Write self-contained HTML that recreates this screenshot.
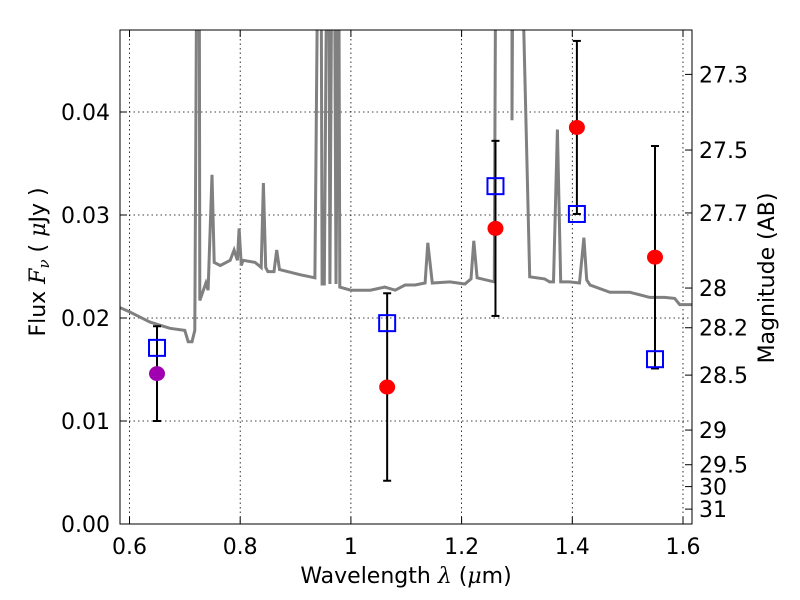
<!DOCTYPE html>
<html><head><meta charset="utf-8"><style>
body{margin:0;background:#fff;}
svg{display:block;font-family:"DejaVu Sans","Liberation Sans",sans-serif;}
</style></head><body>
<div style="position:relative;width:800px;height:600px;">
<svg id="chart" width="800" height="600" style="position:absolute;left:0;top:0;" xmlns="http://www.w3.org/2000/svg"></svg>
<svg width="800" height="600" style="position:absolute;left:0;top:0;font-family:'DejaVu Sans','Liberation Sans',sans-serif;">
<text x="406" y="583" font-size="22" text-anchor="middle">Wavelength  <tspan font-family="DejaVu Serif,serif" font-style="italic">λ</tspan> (<tspan font-family="DejaVu Serif,serif" font-style="italic">μ</tspan>m)</text>
<text transform="translate(45,262) rotate(-90)" font-size="22" text-anchor="middle">Flux  <tspan font-family="DejaVu Serif,serif" font-style="italic">F<tspan font-size="15" dy="4">ν</tspan></tspan><tspan dy="-4">  (  </tspan><tspan font-family="DejaVu Serif,serif" font-style="italic">μ</tspan>Jy )</text>
<text transform="translate(774,278) rotate(-90)" font-size="22" text-anchor="middle">Magnitude (AB)</text>
</svg>
</div>
<script>
const specLam=[0.583,0.600,0.637,0.673,0.700,0.706,0.713,0.718,0.722,0.726,0.727,0.738,0.742,0.749,0.753,0.764,0.782,0.789,0.795,0.798,0.802,0.805,0.827,0.838,0.842,0.846,0.850,0.861,0.866,0.871,0.908,0.935,0.941,0.946,0.948,0.952,0.957,0.960,0.962,0.966,0.970,0.973,0.978,0.980,1.0,1.016,1.035,1.061,1.080,1.098,1.116,1.134,1.139,1.147,1.179,1.206,1.217,1.222,1.228,1.259,1.262,1.291,1.291,1.293,1.307,1.323,1.350,1.359,1.366,1.373,1.379,1.395,1.413,1.421,1.426,1.432,1.468,1.504,1.540,1.567,1.585,1.594,1.616];
const specFlux=[0.0210,0.0206,0.0196,0.0190,0.0188,0.0177,0.0177,0.0188,0.06,0.06,0.0217,0.0234,0.0227,0.0339,0.0254,0.0251,0.0256,0.0266,0.0256,0.0287,0.0251,0.0256,0.0254,0.0249,0.0331,0.0249,0.0245,0.0245,0.0266,0.0247,0.0242,0.0239,0.06,0.06,0.0233,0.0233,0.06,0.06,0.0233,0.06,0.06,0.0233,0.06,0.0230,0.0227,0.0227,0.0227,0.0230,0.0227,0.0232,0.0232,0.0234,0.0273,0.0234,0.0235,0.0233,0.0238,0.0275,0.0239,0.0235,0.06,0.06,0.0392,0.06,0.06,0.0240,0.0238,0.0235,0.0235,0.0383,0.0235,0.0235,0.0234,0.0278,0.0237,0.0232,0.0225,0.0225,0.0220,0.0220,0.0219,0.0213,0.0213];
const obsLam=[0.6497,1.0655,1.2612,1.4083,1.5494];
const obsFlux=[0.0146,0.0133,0.0287,0.0385,0.0259];
const obsErr=[0.0046,0.0091,0.0085,0.0084,0.0108];
const obsColor=["#a000b0","red","red","red","red"];
const modLam=[0.6497,1.0655,1.2612,1.4083,1.5494];
const modFlux=[0.0171,0.0195,0.0328,0.0301,0.0160];
const xTicks=[0.6,0.8,1.0,1.2,1.4,1.6];
const xTickLabels=["0.6","0.8","1","1.2","1.4","1.6"];
const yTicks=[0,0.01,0.02,0.03,0.04];
const yTickLabels=["0.00","0.01","0.02","0.03","0.04"];
const magTicks=[27.3,27.5,27.7,28,28.2,28.5,29,29.5,30,31];

const L=120,R=692,T=30,B=524;
const x=v=>129.5+(v-0.6)*553.5;
const y=v=>524-v*10300;
const svg=document.getElementById('chart');
const NS="http://www.w3.org/2000/svg";
function el(tag,attrs,parent){const e=document.createElementNS(NS,tag);for(const k in attrs)e.setAttribute(k,attrs[k]);(parent||svg).appendChild(e);return e;}

const defs=el('defs',{});
const cp=el('clipPath',{id:'clip'},defs);
el('rect',{x:L,y:T,width:R-L,height:B-T},cp);

const grid=el('g',{});


xTicks.forEach(t=>{el('line',{x1:x(t),x2:x(t),y1:T,y2:B,stroke:'#000','stroke-width':0.8,'stroke-dasharray':'1.5,3'},grid);});
yTicks.forEach(t=>{el('line',{x1:L,x2:R,y1:y(t),y2:y(t),stroke:'#000','stroke-width':0.8,'stroke-dasharray':'1.5,3'},grid);});

const pts=specLam.map((l,i)=>x(l).toFixed(1)+','+y(specFlux[i]).toFixed(1)).join(' ');
const sp=el('polyline',{points:pts,fill:'none',stroke:'#808080','stroke-width':3,'clip-path':'url(#clip)'});



obsLam.forEach((l,i)=>{
  const g=el('g',{});
  
  
  const cx=x(l),y1=y(obsFlux[i]+obsErr[i]),y2=y(obsFlux[i]-obsErr[i]);
  el('line',{x1:cx,x2:cx,y1:y1,y2:y2,stroke:'#000','stroke-width':2},g);
  el('line',{x1:cx-4,x2:cx+4,y1:y1,y2:y1,stroke:'#000','stroke-width':2},g);
  el('line',{x1:cx-4,x2:cx+4,y1:y2,y2:y2,stroke:'#000','stroke-width':2},g);
});
modLam.forEach((l,i)=>{
  const r=el('rect',{x:x(l)-8,y:y(modFlux[i])-8,width:16,height:16,fill:'none',stroke:'blue','stroke-width':2});
  
  
});
obsLam.forEach((l,i)=>{
  const c=el('ellipse',{cx:x(l),cy:y(obsFlux[i]),rx:8,ry:7.5,fill:obsColor[i]});
  
  
});

const fr=el('rect',{x:L,y:T,width:R-L,height:B-T,fill:'none',stroke:'#000','stroke-width':1});



xTicks.forEach((t,i)=>{
  el('line',{x1:x(t),x2:x(t),y1:B,y2:B-7,stroke:'#000'});
  el('line',{x1:x(t),x2:x(t),y1:T,y2:T+7,stroke:'#000'});
  const tx=el('text',{x:x(t),y:B+30,'font-size':22,'text-anchor':'middle'});
  tx.textContent=xTickLabels[i];
  
  
});
yTicks.forEach((t,i)=>{
  el('line',{x1:L,x2:L+7,y1:y(t),y2:y(t),stroke:'#000'});
  const tx=el('text',{x:L-10,y:y(t)+8,'font-size':22,'text-anchor':'end'});
  tx.textContent=yTickLabels[i];
  
  
});
magTicks.forEach(m=>{
  const f=Math.pow(10,(23.9-m)/2.5);
  const yy=y(f);
  el('line',{x1:R,x2:R-7,y1:yy,y2:yy,stroke:'#000'});
  const tx=el('text',{x:R+7,y:yy+8,'font-size':22,'text-anchor':'start'});
  tx.textContent=String(m);
  
  
});
</script>
</body></html>
